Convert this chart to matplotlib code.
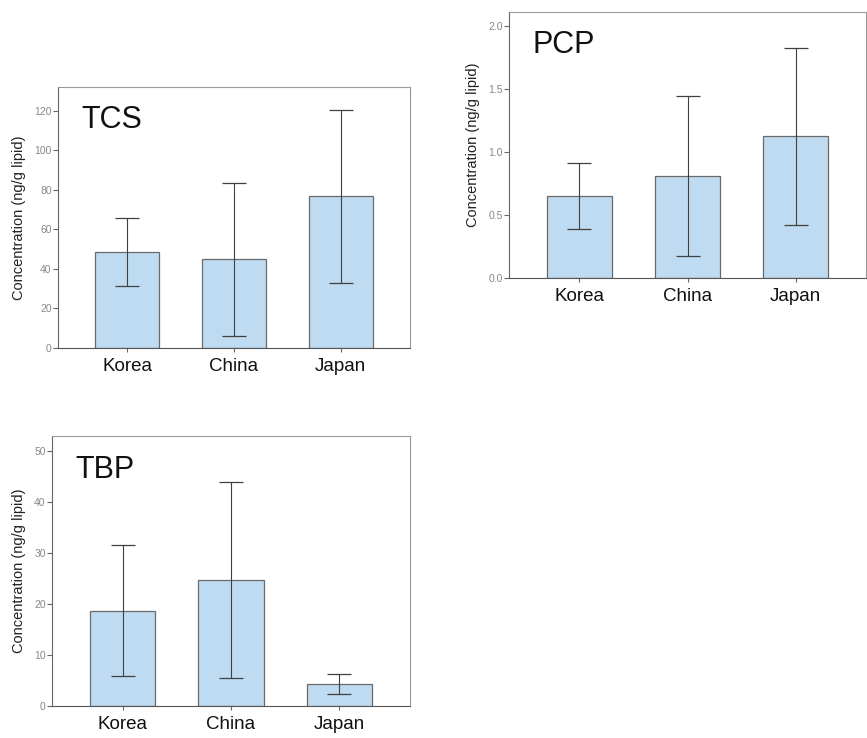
import matplotlib
matplotlib.use("Agg")
import matplotlib.pyplot as plt
import numpy as np

plt.rcParams['font.family'] = ['Liberation Sans', 'DejaVu Sans']

countries = ["Korea", "China", "Japan"]

tcs_mean = [48.6, 45.0, 76.8]
tcs_err = [17.2, 38.7, 43.7]

pcp_mean = [0.648, 0.81, 1.124]
pcp_err = [0.262, 0.634, 0.70]

tbp_mean = [18.7, 24.6, 4.3]
tbp_err = [12.9, 19.2, 1.95]

tcs_ticks = [0, 20, 40, 60, 80, 100, 120]
pcp_ticks = [0.0, 0.5, 1.0, 1.5, 2.0]
tbp_ticks = [0, 10, 20, 30, 40, 50]

W, H = 867, 738
fig = plt.figure(figsize=(W / 100, H / 100), dpi=100)


def box(l, r, t, b):
    return [l / W, 1 - b / H, (r - l) / W, (b - t) / H]


panels = [
    ("TCS", tcs_mean, tcs_err, tcs_ticks, 132, box(58, 410, 87, 348), "{:.0f}"),
    ("PCP", pcp_mean, pcp_err, pcp_ticks, 2.11, box(509, 866, 12, 278), "{:.1f}"),
    ("TBP", tbp_mean, tbp_err, tbp_ticks, 52.9, box(52, 410, 436, 706), "{:.0f}"),
]

bar_color = "#bedbf1"
for name, mean, err, ticks, top, rect, fmt in panels:
    ax = fig.add_axes(rect)
    x = np.arange(len(countries))
    ax.bar(x, mean, width=0.6, color=bar_color, edgecolor="#6a6a6a", linewidth=0.9, zorder=2)
    ax.errorbar(x, mean, yerr=err, fmt="none", ecolor="#404040", elinewidth=0.8,
                capsize=8.5, capthick=0.9, zorder=3)
    ax.set_xlim(-0.65, 2.65)
    ax.set_ylim(0, top)
    ax.set_xticks(x)
    ax.set_xticklabels(countries, fontsize=13.5, color="#111111")
    ax.set_yticks(ticks)
    ax.set_yticklabels([fmt.format(t) for t in ticks], fontsize=7.5, color="#888888")
    ax.tick_params(axis="y", length=3.5, width=0.8, color="#666666", pad=1)
    ax.tick_params(axis="x", length=3, width=0.8, color="#666666", pad=4)
    for s in ax.spines.values():
        s.set_color("#999999")
        s.set_linewidth(0.8)
    ax.spines["bottom"].set_color("#555555")
    ax.spines["left"].set_color("#666666")
    ax.set_ylabel("Concentration (ng/g lipid)", fontsize=10.5, color="#222222", labelpad=6)
    ax.text(0.065, 0.875, name, transform=ax.transAxes, fontsize=22, color="#111111",
            ha="left", va="center")

fig.savefig("out.png", dpi=100)
